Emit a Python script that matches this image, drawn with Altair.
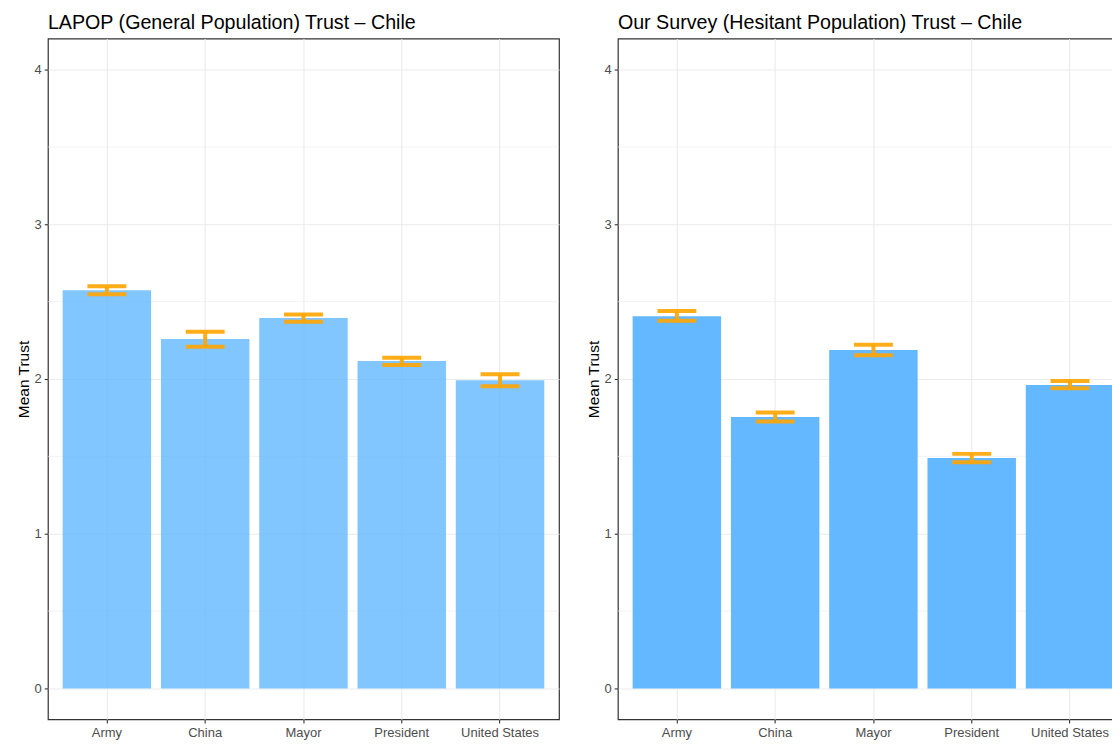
import altair as alt
import pandas as pd

categories = ["Army", "China", "Mayor", "President", "United States"]

lapop_mean = [2.574, 2.258, 2.394, 2.116, 1.992]
lapop_lower = [2.548, 2.209, 2.370, 2.090, 1.953]
lapop_upper = [2.600, 2.305, 2.417, 2.138, 2.030]

survey_mean = [2.406, 1.755, 2.187, 1.490, 1.961]
survey_lower = [2.376, 1.725, 2.153, 1.462, 1.940]
survey_upper = [2.439, 1.783, 2.221, 1.516, 1.987]

minor_breaks = [0.5, 1.5, 2.5, 3.5]
major_breaks = [0, 1, 2, 3, 4]

FONT = "Liberation Sans"


def panel(title, means, lowers, uppers, opacity, width, xscale):
    df = pd.DataFrame({"category": categories, "mean": means,
                       "lower": lowers, "upper": uppers})
    grid_df = pd.DataFrame({"y": minor_breaks})
    yscale = alt.Scale(domain=[-0.2, 4.2], nice=False, zero=False)
    x = alt.X("category:N", scale=xscale, sort=categories,
              axis=alt.Axis(title=None, labelAngle=0, grid=True, bandPosition=0.5,
                            labelPadding=3))
    y_axis = alt.Axis(title="Mean Trust", values=major_breaks, grid=True,
                      titlePadding=3, labelPadding=3)

    minor = alt.Chart(grid_df).mark_rule(color="#EBEBEB", strokeWidth=0.6).encode(
        y=alt.Y("y:Q", scale=yscale, axis=y_axis)
    )
    bars = alt.Chart(df).mark_bar(color="#63B8FF", opacity=opacity).encode(
        x=x,
        y=alt.Y("mean:Q", scale=yscale, axis=y_axis),
        y2=alt.datum(0),
    )
    stems = alt.Chart(df).mark_rule(color="#FFA500", opacity=0.9, strokeWidth=4,
                                    strokeCap="butt").encode(
        x=x,
        y=alt.Y("lower:Q", scale=yscale, axis=y_axis),
        y2="upper:Q",
    )
    caps_lo = alt.Chart(df).mark_tick(color="#FFA500", opacity=0.9, size=39,
                                      thickness=4).encode(
        x=x, y=alt.Y("lower:Q", scale=yscale, axis=y_axis)
    )
    caps_hi = alt.Chart(df).mark_tick(color="#FFA500", opacity=0.9, size=39,
                                      thickness=4).encode(
        x=x, y=alt.Y("upper:Q", scale=yscale, axis=y_axis)
    )
    return alt.layer(minor, bars, stems, caps_lo, caps_hi).properties(
        width=width, height=682,
        title=alt.TitleParams(title, anchor="start", frame="group", fontSize=19.7,
                              font=FONT, fontWeight="normal", color="black",
                              baseline="bottom", offset=-14),
    )


left = panel("LAPOP (General Population) Trust \u2013 Chile",
             lapop_mean, lapop_lower, lapop_upper, 0.8, 512,
             alt.Scale(domain=categories, paddingInner=0.1, paddingOuter=0.15))
right = panel("Our Survey (Hesitant Population) Trust \u2013 Chile",
              survey_mean, survey_lower, survey_upper, 1.0, 502,
              alt.Scale(domain=categories, paddingInner=0.1, paddingOuter=0.0992,
                        align=0.756))

chart = alt.hconcat(left, right, spacing=25).configure_view(
    stroke="#333333", strokeWidth=1.2
).configure_axis(
    domain=False,
    tickColor="#333333", tickSize=3.7, tickWidth=1.1,
    labelColor="#4D4D4D", labelFont=FONT, labelFontSize=13,
    titleFont=FONT, titleFontSize=15.5, titleColor="black", titleFontWeight="normal",
    gridColor="#EBEBEB", gridWidth=1.1,
).properties(
    padding={"left": 7, "top": 3, "right": -8, "bottom": 0}
)

chart.save("out.html", embed_options={"renderer": "svg", "actions": False})
